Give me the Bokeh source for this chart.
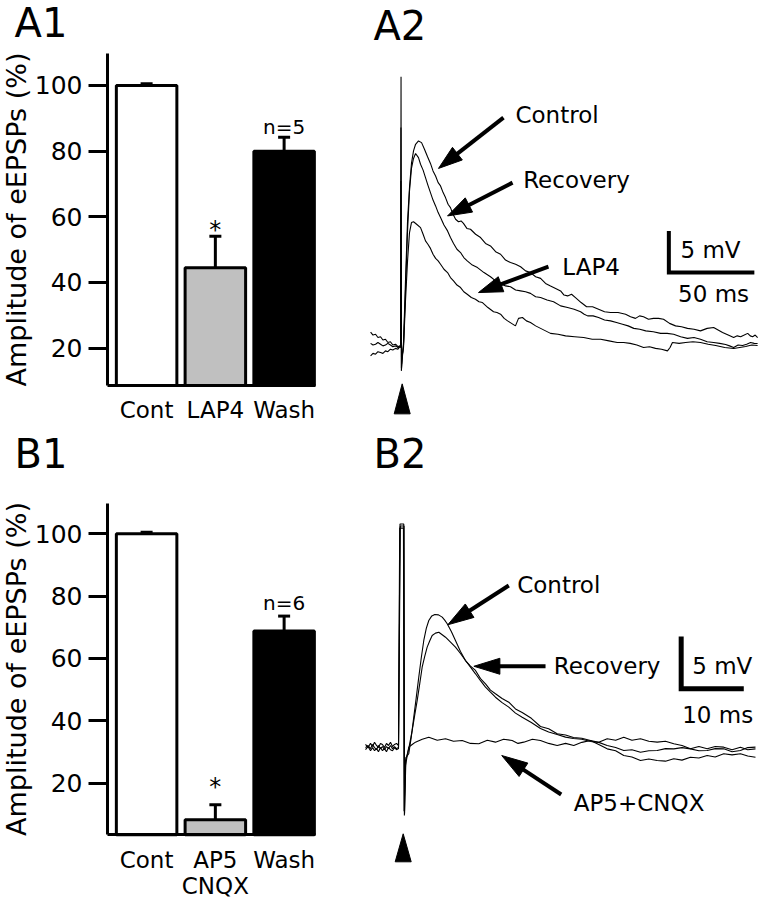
import math
from bokeh.plotting import figure
from bokeh.layouts import row, column
from bokeh.models import Range1d, FixedTicker, Label
from bokeh.embed import file_html
from bokeh.resources import INLINE

FONT = "DejaVu Sans"
BASELINE_FIX = 0.37   # em fraction that the renderer places alphabetic baselines too low

# ---------------- bar-chart data ----------------
BAR_X = [0, 1, 2]
A1_LABELS = {0: "Cont", 1: "LAP4", 2: "Wash"}
A1_MEAN = [100.0, 44.5, 80.0]
A1_SEM = [0.5, 9.6, 4.2]
B1_LABELS = {0: "Cont", 1: "AP5\nCNQX", 2: "Wash"}
B1_MEAN = [100.0, 8.3, 68.8]
B1_SEM = [0.5, 4.8, 4.8]
BAR_FILL = ["white", "#c0c0c0", "black"]
Y_TICKS = [20, 40, 60, 80, 100]
Y_TITLE = "Amplitude of eEPSPs (%)"
A1_YAXIS = (8.62, 109.84)   # visible extent of the A1 value axis
B1_YAXIS = (3.45, 109.8)    # visible extent of the B1 value axis
X_AXIS = (-0.569, 2.457)    # visible extent of the category axis

# ---------------- A2 traces (ms, mV) ----------------
A2_CTRL_T = [-17.9, -16.5, -15.0, -13.6, -12.1, -10.7, -9.2, -7.8, -6.3, -4.9, -3.3, -1.9, -0.8, -0.3, -0.1, 0.1, 0.5, 1.0, 1.4,
             2.5, 3.7, 4.9, 6.0, 7.2, 8.4, 10.1, 11.9, 13.6, 15.4, 17.1, 18.6, 20.1, 21.6, 23.0, 24.5, 25.9, 27.4, 28.8, 30.3,
             31.8, 33.5, 35.0, 36.4, 38.4, 40.5, 43.5, 46.4, 49.3, 52.2, 55.2, 58.1, 61.0, 63.9, 66.9, 69.8, 72.7, 75.6, 78.6,
             81.5, 84.4, 87.3, 90.3, 93.2, 95.2, 97.3, 99.6, 101.9, 105.2, 108.4, 111.9, 115.4, 118.9, 122.4, 126.8, 131.2,
             134.1, 137.0, 139.4, 141.7, 144.6, 147.5, 150.5, 153.4, 156.9, 160.4, 163.9, 167.4, 171.2, 175.0, 178.9, 182.7,
             185.3, 187.9, 191.2, 194.4, 196.5, 198.5, 200.6, 202.6, 204.1, 205.5, 207.0, 208.4]
A2_CTRL_V = [1.84, 1.5, 1.6, 1.2, 1.3, 0.9, 1.0, 0.6, 0.7, 0.3, 0.4, 0.1, 0.2, 0.1, 32.5, -2.8, -1.5, -0.5, 0.8,
             8.0, 15.2, 19.4, 22.1, 23.6, 24.4, 24.8, 24.6, 23.8, 22.9, 22.1, 21.2, 20.6, 19.8, 19.4, 18.6, 18.0, 17.2, 16.8, 16.0,
             15.4, 15.1, 15.2, 14.9, 14.3, 14.2, 13.6, 13.2, 12.5, 12.2, 11.5, 11.2, 10.5, 10.2, 10.0, 9.7, 9.2, 9.0, 8.5,
             8.3, 7.7, 7.4, 7.1, 6.8, 6.3, 6.2, 6.4, 6.0, 5.4, 4.9, 4.9, 4.6, 4.3, 4.2, 4.2, 4.0,
             3.7, 3.5, 3.8, 3.7, 3.4, 3.5, 3.5, 3.4, 2.9, 2.6, 2.5, 2.3, 2.2, 2.0, 2.3, 2.4,
             2.1, 1.8, 1.5, 1.2, 1.4, 1.3, 1.5, 1.7, 1.4, 1.3, 1.5, 1.2]

A2_REC_T = [-17.9, -16.5, -15.0, -13.6, -12.1, -10.7, -9.2, -7.8, -6.3, -4.9, -3.3, -1.9, -0.8, -0.3, -0.15, 0.15, 0.6, 1.35,
            2.5, 3.7, 4.85, 6.0, 7.2, 8.4, 10.1, 11.3, 12.8, 14.2, 15.6, 17.1, 18.6, 20.1, 21.6, 23.0, 25.0, 27.1, 28.8, 30.6,
            32.6, 34.7, 36.6, 38.6, 41.6, 44.6, 48.4, 52.2, 55.2, 58.1, 61.0, 63.9, 66.9, 69.8, 72.7, 75.6, 78.6, 81.5, 85.3,
            89.1, 93.2, 97.3, 101.1, 104.9, 107.0, 109.0, 112.2, 115.4, 118.9, 122.4, 125.9, 129.4, 132.7, 136.0, 139.5,
            143.0, 147.4, 151.7, 155.5, 159.3, 163.4, 167.4, 171.2, 175.0, 178.9, 182.7, 186.2, 189.7, 192.0, 194.4, 197.0,
            199.6, 202.0, 204.3, 206.4, 208.4]
A2_REC_V = [0.5, 0.3, 0.4, 0.6, 0.4, 0.2, 0.3, 0.5, 0.3, 0.1, 0.2, 0.0, 0.1, 0.1, 26.4, -2.5, -1.0, 0.3,
            6.8, 14.0, 18.8, 21.5, 22.7, 23.3, 22.8, 22.0, 21.3, 20.4, 19.5, 18.6, 17.7, 17.0, 16.2, 15.6, 14.7, 14.0, 13.2, 12.5,
            11.8, 11.4, 10.8, 10.4, 9.9, 9.6, 9.0, 8.5, 8.0, 7.7, 7.4, 7.3, 6.9, 6.8, 6.7, 6.5, 6.1, 6.0, 5.7,
            5.5, 5.0, 4.8, 4.6, 4.3, 4.0, 3.8, 3.8, 3.6, 3.3, 3.2, 3.0, 2.8, 2.6, 2.3, 2.2,
            2.0, 1.9, 1.7, 1.7, 1.6, 1.3, 1.1, 1.2, 1.0, 0.7, 0.6, 0.5, 0.36, 0.2, 0.0, 0.3,
            0.24, 0.4, 0.6, 0.5, 0.48]

A2_LAP4_T = [-17.9, -16.5, -15.0, -13.6, -12.1, -10.7, -9.2, -7.8, -6.3, -4.9, -3.3, -1.9, -0.8, -0.3, -0.2, 0.2, 0.7, 1.35,
             2.5, 3.7, 4.85, 6.0, 7.2, 9.0, 11.3, 12.8, 14.2, 15.6, 17.1, 18.6, 20.1, 21.6, 23.0, 25.0, 27.1, 28.8, 30.6, 32.6,
             34.7, 36.6, 38.6, 41.0, 43.4, 45.5, 47.5, 50.7, 54.0, 56.0, 58.1, 60.2, 62.2, 64.5, 66.8, 68.6, 70.9, 73.2, 75.6,
             78.6, 81.5, 84.4, 87.3, 91.7, 96.1, 101.4, 106.7, 111.7, 116.6, 121.5, 126.3, 130.1, 133.9, 137.8, 141.7, 145.2,
             148.7, 152.2, 155.7, 157.2, 158.6, 162.5, 166.3, 170.6, 175.0, 179.5, 183.9, 189.2, 194.4, 197.9, 201.4, 205.0,
             208.4]
A2_LAP4_V = [-1.0, -0.7, -0.8, -0.5, -0.6, -0.7, -0.4, -0.5, -0.2, -0.3, -0.1, -0.2, 0.1, 0.0, 20.0, -2.0, -0.8, 0.0,
             5.6, 10.4, 13.8, 15.0, 15.1, 14.8, 14.4, 13.6, 12.8, 12.4, 11.9, 11.2, 10.7, 10.4, 10.0, 9.4, 9.0, 8.4, 8.0, 7.5,
             7.2, 6.7, 6.4, 6.0, 5.8, 5.5, 5.4, 4.8, 4.3, 4.2, 4.0, 3.5, 3.2, 2.9, 2.6, 3.5, 3.6, 3.2, 3.0,
             2.6, 2.3, 2.0, 1.7, 1.6, 1.4, 1.3, 1.2, 1.0, 1.0, 0.8, 0.6, 0.6, 0.5, 0.3, 0.0, 0.1,
             -0.1, -0.2, -0.4, 0.0, 0.6, 0.5, 0.6, 0.7, 0.6, 0.4, 0.24, 0.0, -0.12, 0.0, 0.12, 0.3,
             0.24]

# ---------------- B2 traces (ms, mV) ----------------
B2_PRE_T = [-5.86, -5.46, -5.06, -4.74, -4.42, -4.1, -3.79, -3.47, -3.15, -2.83, -2.51, -2.19, -1.87, -1.55, -1.23, -0.91, -0.59]
B2_CTRL_T = B2_PRE_T + [-0.35, 0.25, 0.35, 0.6, 1.05, 1.45, 1.85, 2.25, 2.65, 3.05, 3.45, 3.85, 4.25, 4.73, 5.21, 5.8, 6.39,
                        6.79, 7.19, 7.85, 8.51, 9.31, 10.11, 10.91, 11.71, 12.51, 13.31, 14.1, 14.9, 15.96, 17.03, 18.1,
                        19.17, 20.63, 22.09, 23.4, 24.76, 26.1, 27.36, 28.7, 30.08, 31.4, 32.75, 34.1, 35.4, 36.7, 38.07,
                        39.4, 40.73, 42.06, 43.39, 44.7, 46.05, 47.4, 48.72, 50.0, 51.37, 52.7, 54.04, 55.2, 56.44]
B2_CTRL_V = [0.1, -0.2, 0.2, -0.1, 0.3, 0.0, -0.2, 0.2, 0.1, -0.2, 0.2, 0.0, 0.3, -0.1, 0.1, 0.2, 0.0] + \
            [21.2, 21.2, -6.7, -1.15, -0.79, 0.8, 2.71, 4.6, 6.54, 8.4, 10.05, 11.2, 11.96, 12.4, 12.54, 12.5, 12.28,
             12.0, 11.65, 10.9, 10.05, 9.0, 8.13, 7.6, 7.18, 6.4, 5.9, 5.3, 4.95, 4.5, 4.14, 3.5,
             3.16, 2.6, 1.82, 1.6, 1.12, 1.0, 0.77, 0.7, 0.48, 0.1, -0.32, -0.5, -0.96, -1.1, -1.44,
             -1.3, -1.44, -1.5, -1.27, -1.4, -1.12, -1.2, -0.96, -1.1, -0.79, -0.9, -0.79, -1.0, -1.12]
B2_REC_T = B2_PRE_T + [-0.4, 0.2, 0.3, 0.53, 1.05, 1.6, 2.0, 2.4, 2.8, 3.19, 3.59, 3.99, 4.39, 4.79, 5.32, 5.85, 6.39,
                       6.92, 7.72, 8.51, 9.31, 10.11, 10.91, 11.71, 12.51, 13.31, 14.1, 14.9, 15.96, 17.03, 18.1, 19.17,
                       20.63, 22.09, 23.4, 24.76, 26.1, 27.36, 28.7, 30.08, 31.4, 32.75, 34.1, 35.4, 36.7, 38.07, 39.4,
                       40.73, 42.06, 43.39, 44.7, 46.05, 47.4, 48.72, 50.0, 51.37, 52.7, 54.04, 55.2, 56.44]
B2_REC_V = [-0.2, 0.0, -0.3, 0.1, -0.2, -0.4, 0.0, -0.3, -0.1, -0.4, -0.1, -0.3, 0.0, -0.3, -0.1, -0.3, -0.2] + \
           [20.8, 20.8, -6.3, -1.44, -0.3, 1.44, 2.9, 4.31, 5.9, 7.49, 8.5, 9.41, 10.0, 10.53, 10.75, 10.84, 10.6,
            10.36, 9.9, 9.41, 8.8, 8.13, 7.5, 6.86, 6.2, 5.58, 5.1, 4.62, 4.1, 3.67, 3.1, 2.71,
            2.2, 1.63, 1.3, 1.05, 0.8, 0.67, 0.6, 0.38, 0.3, 0.0, -0.2, -0.48, -0.4, -0.64, -0.5,
            -0.48, -0.3, -0.32, -0.2, -0.32, -0.5, -0.48, -0.3, -0.32, -0.6, -0.48, -0.2, -0.16]
B2_AP5_T = B2_PRE_T + [-0.3, 0.3, 0.38, 0.53, 1.05, 1.6, 2.12, 3.2, 4.25, 5.6, 6.92, 8.2, 9.58, 10.9, 12.24, 13.6, 14.9,
                       16.2, 17.57, 18.5, 19.42, 20.8, 22.09, 23.4, 24.76, 26.1, 27.41, 28.7, 30.08, 31.4, 32.75, 34.1,
                       35.4, 36.7, 38.07, 39.4, 40.73, 42.06, 43.39, 44.7, 46.05, 47.4, 48.72, 50.0, 51.37, 52.7, 54.04,
                       55.2, 56.44]
B2_AP5_V = [-0.4, -0.1, -0.5, -0.2, -0.5, -0.3, -0.6, -0.2, -0.5, -0.3, -0.6, -0.2, -0.4, -0.5, -0.2, -0.4, -0.3] + \
           [21.0, 21.0, -6.5, -1.91, -0.16, 0.1, 0.32, 0.6, 0.79, 0.5, 0.64, 0.4, 0.48, 0.2, 0.16, 0.5, 0.32,
            0.6, 0.48, 0.2, 0.32, 0.6, 0.48, 0.2, 0.0, 0.2, 0.0, 0.3, 0.48, 0.3, 0.64, 0.5,
            0.79, 0.5, 0.64, 0.4, 0.32, 0.4, 0.16, 0.0, -0.32, -0.1, -0.32, -0.1, -0.16, -0.4, -0.16,
            -0.4, -0.32]

# ---------------- annotations (start t, start V, tip t, tip V) ----------------
A2_ARROWS = [(59.8, 27.6, 21.8, 21.5), (65.1, 19.8, 27.1, 15.8), (86.1, 9.7, 45.2, 6.6)]
A2_TEXTS = [("Control", 66.8, 26.9), ("Recovery", 71.3, 19.05), ("LAP4", 94.2, 8.64)]
B2_ARROWS = [(17.03, 15.31, 7.28, 11.55), (22.9, 7.58, 11.45, 7.58), (25.4, -4.69, 15.9, -0.96)]
B2_TEXTS = [("Control", 18.37, 14.57), ("Recovery", 24.22, 6.77), ("AP5+CNQX", 27.41, -6.29)]

W_LEFT, W_RIGHT = 340, 426
H_TOP, H_BOT = 430, 468


def add_text(p, sy, x, y, text, size, align="left", **kw):
    """Text whose alphabetic baseline sits at data y (sy = pixels per data unit)."""
    p.add_layout(Label(x=x, y=y + BASELINE_FIX * size / sy, text=text, text_font=FONT, text_color="black",
                       text_font_size=f"{size}px", text_align=align, text_baseline="alphabetic", **kw))


def bar_panel(labels, means, sems, yaxis_ext, height, yr, star_y, n_text, n_y, panel, panel_y):
    xr = (-2.125, 2.82)
    p = figure(width=W_LEFT, height=height, output_backend="svg", toolbar_location=None,
               x_range=Range1d(*xr), y_range=Range1d(*yr),
               min_border=0, min_border_left=0, min_border_right=0, min_border_top=0, min_border_bottom=0,
               frame_align=False)
    sy = height / (yr[1] - yr[0])
    p.outline_line_color = None
    p.xgrid.visible = False
    p.ygrid.visible = False
    p.vbar(x=BAR_X, top=means, bottom=yaxis_ext[0], width=0.88, fill_color=BAR_FILL, line_color="black",
           line_width=3)
    tops = [m + s for m, s in zip(means, sems)]
    p.segment(x0=BAR_X, y0=means, x1=BAR_X, y1=tops, line_color="black", line_width=3)
    p.scatter(x=BAR_X, y=tops, marker="dash", size=12, line_color="black", line_width=3)

    ya = p.yaxis[0]
    ya.fixed_location = X_AXIS[0]
    ya.bounds = yaxis_ext
    ya.ticker = FixedTicker(ticks=Y_TICKS)
    ya.major_tick_out = 19
    ya.major_tick_in = 0
    ya.minor_tick_out = 0
    ya.minor_tick_in = 0
    ya.axis_line_width = 3
    ya.major_tick_line_width = 3
    ya.major_label_text_font = FONT
    ya.major_label_text_font_size = "25px"
    ya.major_label_text_color = "black"
    ya.major_label_standoff = 6
    ya.axis_label = Y_TITLE
    ya.axis_label_text_font = FONT
    ya.axis_label_text_font_size = "27px"
    ya.axis_label_text_font_style = "normal"
    ya.axis_label_text_color = "black"
    ya.axis_label_standoff = 0

    xa = p.xaxis[0]
    xa.fixed_location = yaxis_ext[0]
    xa.bounds = X_AXIS
    xa.ticker = FixedTicker(ticks=BAR_X)
    xa.major_label_overrides = labels
    xa.major_tick_out = 0
    xa.major_tick_in = 0
    xa.minor_tick_out = 0
    xa.minor_tick_in = 0
    xa.axis_line_width = 3
    xa.major_label_text_font = FONT
    xa.major_label_text_font_size = "23px"
    xa.major_label_text_color = "black"
    xa.major_label_text_line_height = 1.0
    xa.major_label_standoff = 12

    add_text(p, sy, 1, star_y, "*", 24, align="center")
    add_text(p, sy, 2, n_y, n_text, 20, align="center")
    add_text(p, sy, -1.921, panel_y, panel, 40)
    return p


def arrow(p, x0, y0, x1, y1, sx, sy, head_len, head_w, lw):
    dx, dy = (x1 - x0) * sx, (y1 - y0) * sy
    L = math.hypot(dx, dy)
    ux, uy = dx / L, dy / L
    nx, ny = -uy, ux
    bx, by = -ux * head_len, -uy * head_len
    xs = [x1, x1 + (bx + nx * head_w / 2) / sx, x1 + (bx - nx * head_w / 2) / sx]
    ys = [y1, y1 + (by + ny * head_w / 2) / sy, y1 + (by - ny * head_w / 2) / sy]
    p.line([x0, x1 + bx * 0.8 / sx], [y0, y1 + by * 0.8 / sy], line_color="black", line_width=lw)
    p.patch(xs, ys, fill_color="black", line_color="black", line_width=1)


def trace_panel(height, xr, yr, traces, arrows, texts, scale, scale_texts, stim, panel, panel_xy, head, bar_w):
    p = figure(width=W_RIGHT, height=height, output_backend="svg", toolbar_location=None,
               x_range=Range1d(*xr), y_range=Range1d(*yr), x_axis_location=None, y_axis_location=None,
               min_border=0, min_border_left=0, min_border_right=0, min_border_top=0, min_border_bottom=0,
               frame_align=False)
    p.outline_line_color = None
    p.xgrid.visible = False
    p.ygrid.visible = False
    sx = W_RIGHT / (xr[1] - xr[0])
    sy = height / (yr[1] - yr[0])
    for t, v in traces:
        p.line(t, v, line_color="black", line_width=1.1)
    for (x0, y0, x1, y1) in arrows:
        arrow(p, x0, y0, x1, y1, sx, sy, head[0], head[1], 4)
    for (txt, x, y) in texts:
        add_text(p, sy, x, y, txt, 23)
    t0, v0, dt, dv = scale
    p.line([t0, t0, t0 + dt], [v0 + dv, v0, v0], line_color="black", line_width=bar_w, line_join="miter")
    for (txt, x, y) in scale_texts:
        add_text(p, sy, x, y, txt, 23)
    st, sv, sh = stim
    p.patch([st, st - 8 / sx, st + 8 / sx], [sv, sv - sh / sy, sv - sh / sy], fill_color="black", line_color="black")
    add_text(p, sy, panel_xy[0], panel_xy[1], panel, 40)
    return p


a1 = bar_panel(A1_LABELS, A1_MEAN, A1_SEM, A1_YAXIS, H_TOP, (-5.09, 125.89), 53.2, "n=5", 85.2, "A1", 114.62)
b1 = bar_panel(B1_LABELS, B1_MEAN, B1_SEM, B1_YAXIS, H_BOT, (-17.0, 133.14), 15.96, "n=6", 75.4, "B1", 120.95)

a2 = trace_panel(H_TOP, (-35.5, 213.6), (-9.96, 41.66),
                 [(A2_CTRL_T, A2_CTRL_V), (A2_REC_T, A2_REC_V), (A2_LAP4_T, A2_LAP4_V)],
                 A2_ARROWS, A2_TEXTS, (156.5, 9.0, 50, 5),
                 [("5 mV", 163.3, 10.65), ("50 ms", 161.9, 5.44)],
                 (0.58, -4.36, 30), "A2", (-16.2, 36.85), (24, 16), 4)
b2 = trace_panel(H_BOT, (-9.856, 58.2), (-14.64, 30.14),
                 [(B2_CTRL_T, B2_CTRL_V), (B2_REC_T, B2_REC_V), (B2_AP5_T, B2_AP5_V)],
                 B2_ARROWS, B2_TEXTS, (44.57, 5.43, 10, 5),
                 [("5 mV", 46.33, 6.79), ("10 ms", 44.73, 2.13)],
                 (0.16, -8.45, 28), "B2", (-4.58, 26.5), (26, 16), 5)

layout = column(row(a1, a2), row(b1, b2))

with open("out.html", "w") as f:
    f.write(file_html(layout, INLINE))
